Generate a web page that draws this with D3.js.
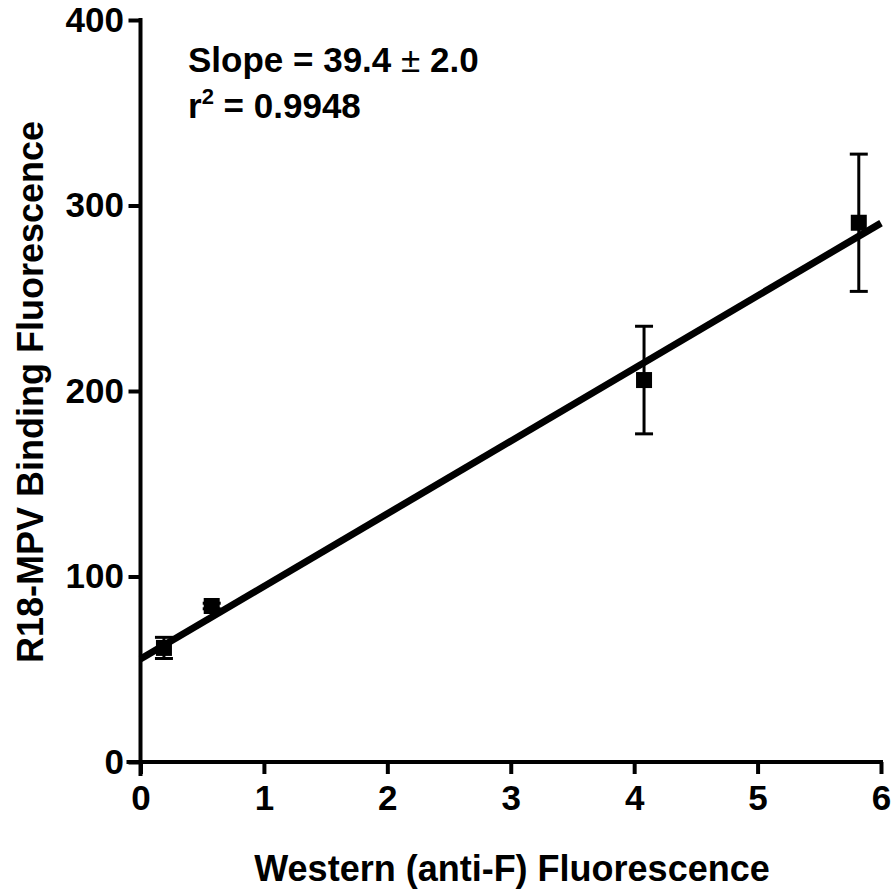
<!DOCTYPE html>
<html>
<head>
<meta charset="utf-8">
<script src="https://cdn.jsdelivr.net/npm/d3@7"></script>
<style>
  html, body { margin: 0; padding: 0; background: #fff; }
  svg { display: block; }
  text { font-family: "Liberation Sans", Arial, sans-serif; font-weight: bold; fill: #000; }
</style>
</head>
<body>
<svg id="chart" width="894" height="894"></svg>
<script>
// Data
const westernX = [0.19, 0.577, 4.08, 5.82];
const bindingY = [61.5, 84.1, 205.9, 290.7];
const bindingErr = [5.7, 1.5, 29.0, 37.0];

// Fitted line endpoints (as drawn in the reference)
const fitX = [0, 6];
const fitY = [55.5, 290.5];

const xTicks = [0, 1, 2, 3, 4, 5, 6];
const yTicks = [0, 100, 200, 300, 400];

const xTitle = "Western (anti-F) Fluorescence";
const yTitle = "R18-MPV Binding Fluorescence";
const slopeText = ["Slope = 39.4 ", "\u00B1", " 2.0"];
const r2Text = ["r", "2", " = 0.9948"];

const svg = d3.select("#chart");

const x = d3.scaleLinear().domain([0, 6]).range([140.5, 881]);
const y = d3.scaleLinear().domain([0, 400]).range([762, 20]);

const FONT = 35;
const TITLE_FONT = 36;

// Fit line
svg.append("line")
  .attr("x1", x(fitX[0])).attr("y1", y(fitY[0]))
  .attr("x2", x(fitX[1])).attr("y2", y(fitY[1]))
  .attr("stroke", "#000").attr("stroke-width", 7);

// Error bars
const pts = westernX.map((v, i) => ({ x: v, y: bindingY[i], e: bindingErr[i] }));
const eb = svg.append("g");
pts.forEach(p => {
  eb.append("line")
    .attr("x1", x(p.x)).attr("x2", x(p.x))
    .attr("y1", y(p.y - p.e)).attr("y2", y(p.y + p.e))
    .attr("stroke", "#000").attr("stroke-width", 3);
  [p.y - p.e, p.y + p.e].forEach(v => {
    eb.append("line")
      .attr("x1", x(p.x) - 9).attr("x2", x(p.x) + 9)
      .attr("y1", y(v)).attr("y2", y(v))
      .attr("stroke", "#000").attr("stroke-width", 3);
  });
});

// Markers
svg.append("g").selectAll("rect").data(pts).join("rect")
  .attr("x", d => x(d.x) - 8)
  .attr("y", d => y(d.y) - 8)
  .attr("width", 16).attr("height", 16)
  .attr("fill", "#000");

// Axes
const xAxis = d3.axisBottom(x).tickValues(xTicks).tickFormat(d3.format("d"))
  .tickSize(12).tickSizeOuter(0).tickPadding(11);
const yAxis = d3.axisLeft(y).tickValues(yTicks).tickFormat(d3.format("d"))
  .tickSize(12).tickSizeOuter(0).tickPadding(4.5);

const gx = svg.append("g").attr("transform", "translate(0,762)").call(xAxis);
const gy = svg.append("g").attr("transform", "translate(140.5,0)").call(yAxis);
[gx, gy].forEach(g => {
  g.select(".domain").attr("stroke", "#000").attr("stroke-width", 4);
  g.selectAll(".tick line").attr("stroke", "#000").attr("stroke-width", 4);
  g.selectAll(".tick text")
    .attr("font-family", "Liberation Sans, Arial, sans-serif")
    .attr("font-weight", "bold")
    .attr("font-size", FONT)
    .attr("fill", "#000");
});
gx.select(".domain").attr("d", `M${x(0) - 14},0H${x(6) + 2}`);
gy.select(".domain").attr("d", `M0,${y(400) - 2}V${y(0) + 14}`);

// Axis titles
svg.append("text")
  .attr("x", 512).attr("y", 881)
  .attr("text-anchor", "middle")
  .attr("font-size", TITLE_FONT)
  .text(xTitle);

svg.append("text")
  .attr("transform", "translate(43,392) rotate(-90)")
  .attr("text-anchor", "middle")
  .attr("font-size", TITLE_FONT)
  .text(yTitle);

// Annotation
const t1 = svg.append("text").attr("x", 188).attr("y", 72).attr("font-size", FONT);
t1.append("tspan").text(slopeText[0]);
t1.append("tspan").attr("font-weight", "normal").text(slopeText[1]);
t1.append("tspan").text(slopeText[2]);

const t2 = svg.append("text").attr("x", 188).attr("y", 118).attr("font-size", FONT);
t2.append("tspan").text(r2Text[0]);
t2.append("tspan").attr("font-size", 22).attr("dy", -14).text(r2Text[1]);
t2.append("tspan").attr("dy", 14).text(r2Text[2]);
</script>
</body>
</html>
